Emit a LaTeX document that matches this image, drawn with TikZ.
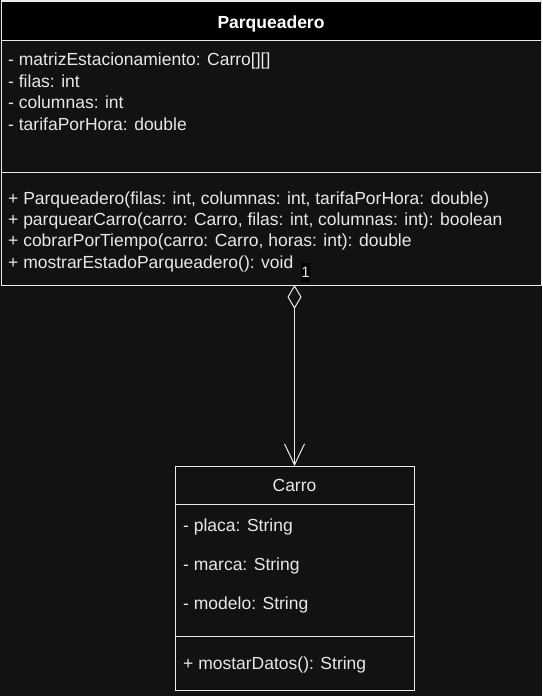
\documentclass[tikz,border=0pt]{standalone}
\usepackage{fontspec}
\setmainfont{Liberation Sans}
\usetikzlibrary{arrows.meta}
\definecolor{bg}{RGB}{18,18,18}
\definecolor{fg}{RGB}{232,232,232}
\definecolor{edge}{RGB}{235,235,235}
\begin{document}
\begin{tikzpicture}[x=1pt,y=-1pt,
  box/.style={draw=edge, line width=1pt, fill=bg, anchor=north west, inner sep=0pt, outer sep=0pt},
  hdr/.style={box, fill=black},
  sep/.style={draw=edge, line width=1pt},
  txt/.style={anchor=base west, inner sep=0pt, text=fg, font=\fontsize{17.5}{21}\selectfont},
  ttl/.style={anchor=base, inner sep=0pt, text=fg, font=\fontsize{17.5}{21}\selectfont},
  mult/.style={fill=black, text=fg, inner sep=0pt, minimum width=9pt, minimum height=19pt, font=\fontsize{15}{16}\selectfont},
  aggr/.style={draw=edge, line width=1pt, {Diamond[open,length=24pt,width=14pt]}-{Straight Barb[length=21pt,width=20pt]}}
]
\fill[bg] (0,0) rectangle (542,696);
\useasboundingbox (0,0) rectangle (542,696);

% Parqueadero
\node[box, minimum width=540pt, minimum height=284pt] (P) at (1,1) {};
\node[hdr, minimum width=540pt, minimum height=39pt] (Ph) at (1,1) {};
\coordinate (Ps1) at (1,172);
\coordinate (Ps2) at (541,172);
\draw[sep] (Ps1) -- (Ps2);
\node[ttl, font=\fontsize{17.5}{21}\selectfont\bfseries, text=white] (Pt) at (271,28.3) {Parqueadero};
\node[txt] (Pa1) at (8,65.6) {- matrizEstacionamiento: Carro[][]};
\node[txt] (Pa2) at (8,87.2) {- filas: int};
\node[txt] (Pa3) at (8,108.8) {- columnas: int};
\node[txt] (Pa4) at (8,130.4) {- tarifaPorHora: double};
\node[txt] (Pm1) at (8,204) {+ Parqueadero(filas: int, columnas: int, tarifaPorHora: double)};
\node[txt] (Pm2) at (8,225.4) {+ parquearCarro(carro: Carro, filas: int, columnas: int): boolean};
\node[txt] (Pm3) at (8,246.8) {+ cobrarPorTiempo(carro: Carro, horas: int): double};
\node[txt] (Pm4) at (8,268.2) {+ mostrarEstadoParqueadero(): void};

% Carro
\node[box, minimum width=239pt, minimum height=224pt] (C) at (175,466) {};
\coordinate (Cs1) at (175,504.5);
\coordinate (Cs2) at (414,504.5);
\coordinate (Cs3) at (175,636.5);
\coordinate (Cs4) at (414,636.5);
\draw[sep] (Cs1) -- (Cs2);
\draw[sep] (Cs3) -- (Cs4);
\node[ttl] (Ct) at (294.5,491.7) {Carro};
\node[txt] (Ca1) at (183,531.7) {- placa: String};
\node[txt] (Ca2) at (183,570.5) {- marca: String};
\node[txt] (Ca3) at (183,609.3) {- modelo: String};
\node[txt] (Cm1) at (183,669.3) {+ mostarDatos(): String};

% association
\draw[aggr] (C.north |- P.south) -- (C.north);
\node[mult] (m1) at (305.5,272.2) {1};
\end{tikzpicture}
\end{document}
